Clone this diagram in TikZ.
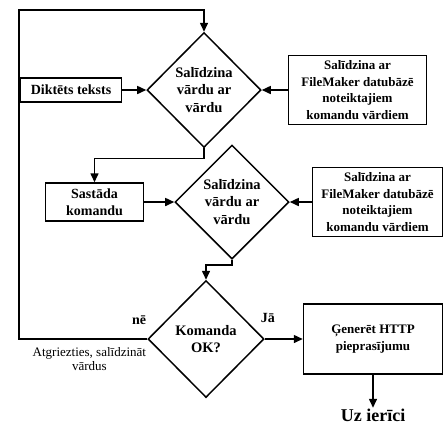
\documentclass[tikz,border=0pt]{standalone}
\usepackage{fontspec}
\setmainfont{Liberation Serif}
\usepackage{tikz}
\usetikzlibrary{shapes.geometric, arrows.meta, positioning}

\begin{document}
\begin{tikzpicture}[
    x=1pt, y=-1pt,
    box/.style={rectangle, draw, line width=1.5pt, align=center, inner sep=2pt, font=\fontsize{14}{17}\selectfont\bfseries},
    dbbox/.style={rectangle, draw, line width=1.5pt, align=center, inner sep=2pt, minimum height=69pt, font=\fontsize{13}{16.5}\selectfont\bfseries},
    decision/.style={diamond, draw, line width=1.5pt, align=center, inner sep=0pt, font=\fontsize{14.5}{17.5}\selectfont\bfseries},
    lbl/.style={inner sep=1pt, font=\fontsize{14}{17}\selectfont\bfseries},
    arrow/.style={-{Triangle[length=9pt, width=8pt]}, line width=1.5pt}
]
    \useasboundingbox (0,0) rectangle (443,424);

    % Nodes
    \node[decision, minimum width=114pt, minimum height=115pt] (cmp1) at (204,90) {Salīdzina\\vārdu ar\\vārdu};
    \node[box, minimum width=101pt, minimum height=24pt, left=24pt of cmp1] (dict) {Diktēts teksts};
    \node[dbbox, minimum width=138pt, right=26pt of cmp1] (db1) {Salīdzina ar\\FileMaker datubāzē\\noteiktajiem\\komandu vārdiem};

    \node[decision, minimum width=114pt, minimum height=114pt] (cmp2) at (232,202) {Salīdzina\\vārdu ar\\vārdu};
    \node[box, minimum width=98pt, minimum height=38pt, left=30pt of cmp2] (make) {Sastāda\\komandu};
    \node[dbbox, minimum width=130pt, right=22pt of cmp2] (db2) {Salīdzina ar\\FileMaker datubāzē\\noteiktajiem\\komandu vārdiem};

    \node[decision, minimum width=116pt, minimum height=117pt] (okq) at (206,339) {Komanda\\OK?};
    \node[box, minimum width=139pt, minimum height=70pt, font=\fontsize{13}{16.5}\selectfont\bfseries, right=38pt of okq] (http) {Ģenerēt HTTP\\pieprasījumu};
    \node[lbl, font=\fontsize{18}{20}\selectfont\bfseries, below=33pt of http] (dev) {Uz ierīci};

    \node[lbl, above right=15pt and -5pt of okq.east] (yes) {Jā};
    \node[lbl, above left=13pt and 0pt of okq.west] (no) {nē};
    \node[align=center, inner sep=1pt, font=\fontsize{13}{14.5}\selectfont, below left=7pt and 0pt of okq.west] (back) {Atgriezties, salīdzināt\\vārdus};

    \coordinate (loop) at (19,10);

    % Arrows
    \draw[arrow] (dict) -- (cmp1);
    \draw[arrow] (db1) -- (cmp1);
    \draw[arrow] (cmp1.south) -- ++(0,10) -| (make.north);
    \draw[arrow] (make) -- (cmp2);
    \draw[arrow] (db2) -- (cmp2);
    \draw[arrow] (cmp2.south) -- ++(0,5) -| (okq.north);
    \draw[arrow] (okq) -- (http);
    \draw[arrow] (http) -- (dev);
    \draw[arrow] (okq.west) -| (loop) -| (cmp1.north);

\end{tikzpicture}
\end{document}
